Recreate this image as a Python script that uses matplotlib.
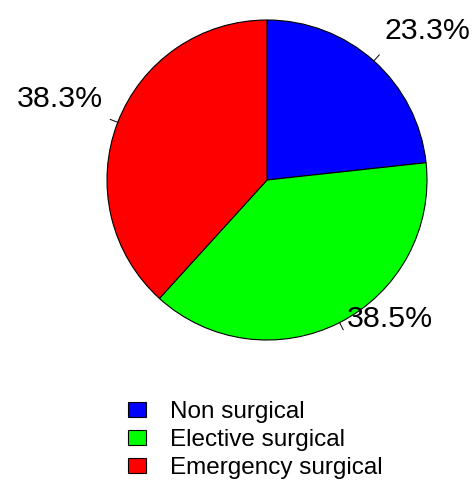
import numpy as np
import matplotlib.pyplot as plt
from matplotlib.patches import Patch

plt.rcParams['font.family'] = ['Liberation Sans', 'DejaVu Sans']

# data
categories = ['Non surgical', 'Elective surgical', 'Emergency surgical']
shares = [23.3, 38.5, 38.3]
colors = ['#0000FF', '#00FF00', '#FF0000']
pct_labels = ['23.3%', '38.5%', '38.3%']

W, H = 476, 486
cx, cy, R = 267, 180, 160  # pie centre / radius in pixels

fig = plt.figure(figsize=(W / 100, H / 100), dpi=100)
ax = fig.add_axes([0, 0, 1, 1])

ax.pie(shares, colors=colors, startangle=90, counterclock=False,
       wedgeprops=dict(edgecolor='black', linewidth=0.8))

# R style label ticks and labels
total = sum(shares)
cum = 0
for val, lab in zip(shares, pct_labels):
    mid = np.deg2rad(90 - (cum + val / 2) / total * 360)
    cum += val
    c, s = np.cos(mid), np.sin(mid)
    ax.plot([c, 1.05 * c], [s, 1.05 * s], color='black', lw=0.7)
    ax.text(1.1 * c, 1.1 * s + 0.11, lab, fontsize=21.8,
            ha='left' if c > 0 else 'right', va='center')

ax.set_xlim(-cx / R, (W - cx) / R)
ax.set_ylim(-(H - cy) / R, cy / R)
ax.axis('off')

handles = [Patch(facecolor=col, edgecolor='black', linewidth=0.8) for col in colors]
fig.legend(handles, categories, loc='upper left',
           bbox_to_anchor=(128 / W, 1 - 401 / H), frameon=False,
           fontsize=17.5, handlelength=0.74, handleheight=0.58,
           handletextpad=1.0, labelspacing=0.24, borderpad=0, borderaxespad=0)

fig.savefig('out.png', dpi=100)
